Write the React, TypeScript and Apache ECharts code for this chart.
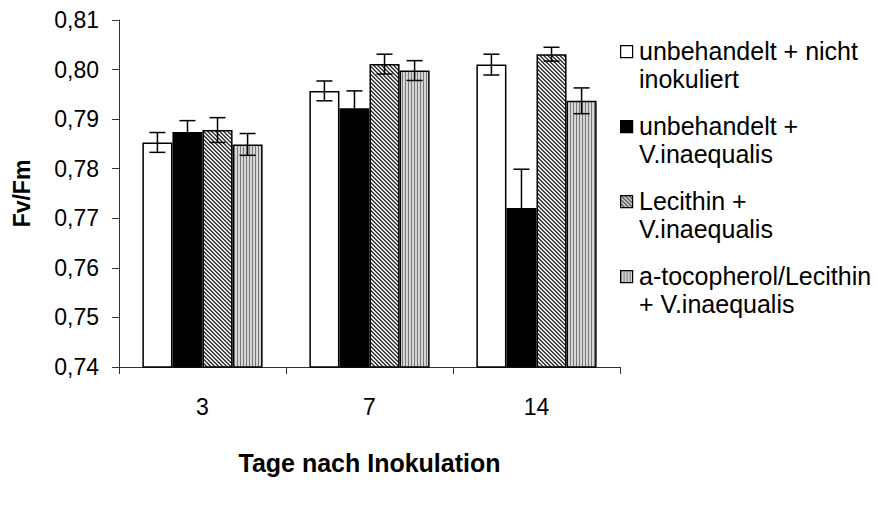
import React, { useEffect, useRef } from "react";
import * as echarts from "echarts";

// Days after inoculation (x categories)
const DAYS = ["3", "7", "14"];

// Treatment names (legend, two lines each)
const TREATMENTS = [
  "unbehandelt + nicht\ninokuliert",
  "unbehandelt +\nV.inaequalis",
  "Lecithin +\nV.inaequalis",
  "a-tocopherol/Lecithin\n+ V.inaequalis",
];

// Mean Fv/Fm per treatment and day
const UNTREATED_UNINOCULATED = [0.7853, 0.7957, 0.801];
const UNTREATED_INOCULATED = [0.7874, 0.7922, 0.7721];
const LECITHIN_INOCULATED = [0.7878, 0.8011, 0.8031];
const TOCOPHEROL_INOCULATED = [0.7849, 0.7998, 0.7937];

// Standard errors per treatment and day
const ERR_UNTREATED_UNINOCULATED = [0.002, 0.002, 0.0021];
const ERR_UNTREATED_INOCULATED = [0.0023, 0.0035, 0.0078];
const ERR_LECITHIN_INOCULATED = [0.0025, 0.002, 0.0014];
const ERR_TOCOPHEROL_INOCULATED = [0.0022, 0.002, 0.0026];

// Value axis range
const Y_MIN = 0.74;
const Y_MAX = 0.81;
const Y_STEP = 0.01;

const FONT = "'Liberation Sans', Arial, sans-serif";
const BAR_FRACTION = 0.18;

type Fill = string | { image: string; repeat: string; imageWidth: number; imageHeight: number };

function makeTile(w: number, h: number, paint: (x: number, y: number) => string): Fill {
  const c = document.createElement("canvas");
  c.width = w;
  c.height = h;
  const ctx = c.getContext("2d")!;
  for (let y = 0; y < h; y++) {
    for (let x = 0; x < w; x++) {
      ctx.fillStyle = paint(x, y);
      ctx.fillRect(x, y, 1, 1);
    }
  }
  return { image: c.toDataURL(), repeat: "repeat", imageWidth: w, imageHeight: h };
}

export default function App() {
  const ref = useRef<HTMLDivElement>(null);

  useEffect(() => {
    if (!ref.current) return;
    const chart = echarts.init(ref.current, undefined, { renderer: "svg" });

    const diagonal = makeTile(4, 4, (x, y) => {
      const d = (x - y + 8) % 4;
      return d === 0 ? "#2a2a2a" : d === 1 ? "#6a6a6a" : d === 2 ? "#ffffff" : "#cfcfcf";
    });
    const stripes = makeTile(3, 1, (x) => (x === 0 ? "#7a7a7a" : "#d6d6d6"));
    const fills: Fill[] = ["#ffffff", "#000000", diagonal, stripes];

    const values = [
      UNTREATED_UNINOCULATED,
      UNTREATED_INOCULATED,
      LECITHIN_INOCULATED,
      TOCOPHEROL_INOCULATED,
    ];
    const errors = [
      ERR_UNTREATED_UNINOCULATED,
      ERR_UNTREATED_INOCULATED,
      ERR_LECITHIN_INOCULATED,
      ERR_TOCOPHEROL_INOCULATED,
    ];

    const barSeries = values.map((vals, si) => ({
      type: "bar",
      name: TREATMENTS[si],
      data: vals,
      barWidth: `${BAR_FRACTION * 100}%`,
      barGap: "0%",
      itemStyle: { color: fills[si], borderColor: "#000", borderWidth: 1.5 },
      z: 2,
    }));

    const errorData: number[][] = [];
    values.forEach((vals, si) =>
      vals.forEach((v, ci) => errorData.push([ci, v, errors[si][ci], si]))
    );

    const errorSeries = {
      type: "custom",
      data: errorData,
      encode: { x: 0, y: 1 },
      z: 5,
      renderItem: (_params: any, api: any) => {
        const ci = api.value(0);
        const v = api.value(1);
        const e = api.value(2);
        const si = api.value(3);
        const band = api.size([1, 0])[0];
        const barW = band * BAR_FRACTION;
        const base = api.coord([ci, v]);
        const x = base[0] + (si - 1.5) * barW;
        const yTop = api.coord([ci, v + e])[1];
        const yBot = api.coord([ci, v - e])[1];
        const cap = 8;
        const style = { stroke: "#000", lineWidth: 1.5 };
        return {
          type: "group",
          children: [
            { type: "line", shape: { x1: x, y1: yTop, x2: x, y2: yBot }, style },
            { type: "line", shape: { x1: x - cap, y1: yTop, x2: x + cap, y2: yTop }, style },
            { type: "line", shape: { x1: x - cap, y1: yBot, x2: x + cap, y2: yBot }, style },
          ],
        };
      },
    };

    // Legend drawn as swatch + two-line label, first line aligned with the swatch
    const legendX = 620;
    const legendTop = 51;
    const legendStep = 75;
    const legendItems: any[] = [];
    TREATMENTS.forEach((name, i) => {
      const cy = legendTop + i * legendStep;
      legendItems.push({
        type: "rect",
        left: legendX,
        top: cy - 6,
        shape: { width: 12, height: 12 },
        style: { fill: fills[i], stroke: "#000", lineWidth: 1.2 },
      });
      legendItems.push({
        type: "text",
        left: legendX + 19,
        top: cy - 14,
        style: {
          text: name,
          font: `25px ${FONT}`,
          fill: "#000",
          lineHeight: 28,
        },
      });
    });

    chart.setOption({
      animation: false,
      backgroundColor: "#fff",
      textStyle: { fontFamily: FONT },
      grid: { left: 119, top: 20, width: 501, height: 347 },
      xAxis: {
        type: "category",
        data: DAYS,
        name: "Tage nach Inokulation",
        nameLocation: "middle",
        nameGap: 83,
        nameTextStyle: { fontSize: 25, fontWeight: "bold", color: "#000", fontFamily: FONT },
        axisLine: { lineStyle: { color: "#333", width: 1 } },
        axisTick: { show: true, length: 7, lineStyle: { color: "#333" } },
        axisLabel: { fontSize: 23, color: "#000", margin: 28, fontFamily: FONT },
      },
      yAxis: {
        type: "value",
        min: Y_MIN,
        max: Y_MAX,
        interval: Y_STEP,
        name: "Fv/Fm",
        nameLocation: "middle",
        nameGap: 86,
        nameTextStyle: { fontSize: 23, fontWeight: "bold", color: "#000", fontFamily: FONT },
        axisLine: { show: true, lineStyle: { color: "#333", width: 1 } },
        axisTick: { show: true, length: 7, lineStyle: { color: "#333" } },
        splitLine: { show: false },
        axisLabel: {
          fontSize: 23,
          color: "#000",
          margin: 20,
          fontFamily: FONT,
          formatter: (v: number) => v.toFixed(2).replace(".", ","),
        },
      },
      series: [...barSeries, errorSeries],
      graphic: legendItems,
    });

    return () => chart.dispose();
  }, []);

  return (
    <div
      ref={ref}
      style={{ position: "fixed", left: 0, top: 0, width: 885, height: 507, background: "#fff" }}
    />
  );
}
